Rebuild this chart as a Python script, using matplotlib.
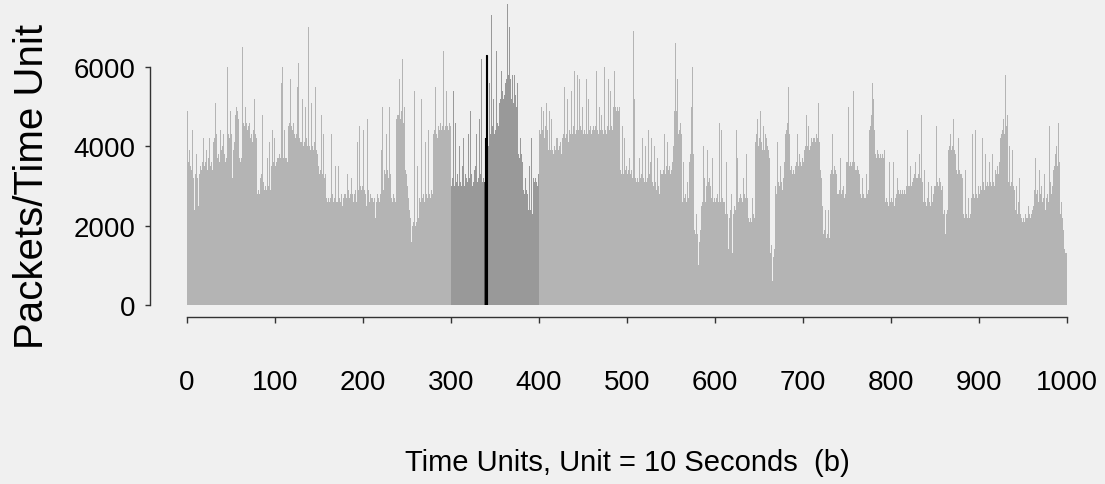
import matplotlib
matplotlib.use('Agg')
import matplotlib.pyplot as plt
import numpy as np

# packets per time unit (1 unit = 10 s)
packets_before = [
    4900, 3600, 3900, 3500, 3300, 3400, 4400, 3200, 2400, 3300,
    3800, 3200, 3400, 2500, 3300, 3500, 3400, 3600, 4200, 3500,
    3500, 3600, 3900, 3400, 3700, 4200, 3500, 3600, 3400, 3800,
    4100, 4200, 5100, 4300, 3700, 3800, 3600, 4000, 4400, 3900,
    4000, 4300, 3800, 3600, 3700, 5100, 6000, 4300, 4200, 4900,
    4300, 3200, 3900, 4100, 3800, 4800, 5000, 4900, 4700, 3700,
    3600, 3700, 5800, 6500, 4600, 4500, 5000, 4600, 4400, 4500,
    4400, 4600, 4200, 4300, 4100, 4400, 5200, 4300, 4200, 2900,
    2800, 2900, 2800, 3200, 3300, 4800, 3100, 3200, 2900, 3000,
    2900, 3700, 3000, 4100, 2900, 3000, 3500, 4400, 3600, 4200,
    3500, 3600, 3700, 3700, 3600, 3800, 3700, 5600, 6000, 3700,
    4400, 3700, 5100, 3700, 3600, 4500, 4600, 5700, 4500, 4400,
    4500, 4600, 4300, 4200, 4300, 5500, 6100, 4200, 4100, 4200,
    4100, 5200, 4000, 4100, 5000, 4200, 4000, 4100, 7000, 4000,
    3900, 5100, 4000, 3900, 4100, 4000, 5500, 3900, 3800, 3500,
    3300, 3400, 4800, 3300, 3400, 4300, 3200, 3300, 2700, 2600,
    2700, 2600, 4500, 2700, 4300, 2800, 2600, 2700, 3500, 2600,
    2500, 2600, 3500, 2700, 2600, 2800, 2500, 2700, 2800, 3300,
    2800, 2700, 3300, 2900, 2700, 2800, 3200, 2700, 2800, 2600,
    2800, 2900, 2600, 4100, 2900, 3000, 4500, 3000, 2900, 3000,
    4400, 2900, 2800, 2500, 2800, 4700, 2900, 2600, 2800, 2700,
    2700, 2600, 4100, 2700, 2200, 2600, 2800, 2700, 2600, 2800,
    2700, 3900, 5000, 2900, 3400, 3300, 4300, 3400, 3200, 3300,
    5000, 3300, 2700, 2600, 2800, 2700, 2600, 2700, 4700, 4800,
    4800, 5700, 4700, 4900, 6200, 4800, 4600, 5000, 3400, 3300,
    3000, 2700, 2400, 2200, 1300, 1600, 2000, 2100, 5400, 2000,
    2100, 3500, 2000, 2200, 2700, 2600, 5200, 2700, 2800, 2600,
    2700, 4100, 2800, 2700, 4400, 2800, 2700, 2900, 2800, 3000,
    4300, 4400, 5500, 4300, 4200, 4500, 4400, 4300, 4600, 4400,
    4500, 6400, 4400, 4500, 5400, 4600, 4500, 4400, 4600, 4500,
]
packets_window = [
    3000, 3200, 5400, 3000, 4000, 4600, 3100, 3300, 3000, 4000,
    3100, 3000, 5400, 3500, 4200, 3000, 3300, 3200, 3100, 4300,
    5400, 3200, 4900, 3300, 3000, 3100, 3400, 3500, 4300, 3000,
    3100, 3200, 4700, 3300, 6200, 3100, 3200, 3100, 3100, 4200,
    6300, 4200, 4000, 5600, 4300, 4200, 7300, 4500, 5200, 4300,
    4400, 6400, 4600, 4500, 4800, 5100, 5200, 5900, 5400, 5200,
    5300, 5600, 5800, 5700, 7600, 5800, 7000, 5700, 5200, 5800,
    5200, 5100, 5800, 5300, 5000, 5600, 3800, 3700, 4200, 3700,
    3800, 3600, 2900, 2800, 3200, 2900, 2800, 2300, 2400, 3500,
    2400, 4200, 2300, 3200, 3100, 3300, 3200, 3100, 3000, 3300,
]
packets_after = [
    4400, 4300, 5000, 4400, 4300, 4900, 4200, 4500, 5100, 4400,
    3900, 4900, 3800, 3900, 4700, 3900, 3800, 4000, 3900, 4200,
    3800, 4200, 3900, 4000, 4100, 3800, 4200, 4300, 5500, 4200,
    4200, 4300, 5200, 4100, 4400, 4300, 5400, 4200, 4300, 4500,
    5900, 4300, 4400, 5800, 4400, 4300, 5700, 4500, 4400, 5000,
    4300, 4400, 4300, 5700, 4400, 4300, 5200, 4400, 4500, 4300,
    4400, 4500, 5000, 4400, 4500, 5900, 4400, 4300, 5000, 4400,
    4300, 4800, 4400, 4300, 6000, 4400, 4300, 4500, 5700, 4400,
    4400, 5400, 4500, 4400, 5000, 5900, 5000, 5800, 4900, 5000,
    4900, 5000, 3400, 3300, 4500, 3400, 3300, 4200, 3400, 3500,
    3300, 3400, 3700, 3300, 3200, 3400, 3200, 6900, 5200, 3200,
    3100, 3200, 4300, 3100, 3700, 3200, 3300, 4200, 3200, 3100,
    3200, 4000, 3100, 3200, 4400, 3300, 3600, 4200, 3100, 3000,
    3000, 4000, 3100, 2900, 3700, 3000, 2800, 3000, 3400, 3300,
    3300, 3400, 4300, 3300, 3500, 3300, 4100, 3400, 3500, 3300,
    3400, 3600, 4000, 4900, 5000, 6600, 4900, 5700, 4300, 4400,
    4600, 4300, 2700, 2600, 3600, 2700, 2800, 2600, 3100, 2700,
    2700, 3600, 3800, 5000, 6000, 3800, 1900, 1800, 2300, 1700,
    1800, 1000, 1600, 1900, 2500, 2600, 4000, 2500, 3200, 2600,
    3000, 3900, 3100, 3200, 3000, 3300, 2700, 3700, 2600, 2700,
    2600, 2700, 2800, 2600, 2500, 4600, 2600, 4400, 2700, 2600,
    2600, 2300, 2200, 3600, 2300, 1400, 2200, 2400, 2800, 1300,
    2200, 2300, 2500, 2400, 4400, 3700, 2600, 2700, 2800, 3900,
    2700, 2600, 3200, 2800, 2700, 3800, 2700, 2500, 2200, 2100,
    2200, 2100, 2700, 2300, 2200, 2100, 4100, 4300, 4700, 4000,
    4200, 4900, 4100, 3900, 4000, 4500, 3900, 4300, 4200, 4000,
    3900, 3700, 1800, 1300, 1500, 600, 1200, 1400, 3000, 2800,
    3000, 4100, 3100, 3000, 3500, 3100, 2900, 3200, 3600, 3100,
    4300, 4400, 4600, 5500, 4300, 3400, 3500, 5100, 3300, 3400,
    3300, 3500, 3600, 4300, 3500, 3400, 3800, 3600, 3500, 3700,
    3600, 3900, 4000, 4800, 3900, 4000, 4500, 3900, 4000, 4200,
    4100, 4200, 4600, 4200, 4100, 4300, 4200, 5100, 4100, 3400,
    3300, 3200, 2500, 1800, 1900, 2400, 1700, 1800, 2400, 1900,
    1700, 3300, 3400, 4300, 3300, 3500, 3400, 4000, 3300, 2800,
    2800, 2900, 3700, 2800, 2900, 2800, 3000, 2700, 2800, 3600,
    3600, 5000, 3500, 3600, 3700, 3500, 3600, 5400, 3600, 3400,
    3400, 3500, 3800, 3400, 3300, 2800, 2700, 3200, 2800, 2700,
    2800, 2700, 3300, 2800, 2900, 4400, 4500, 4800, 5600, 4500,
    5200, 4400, 3800, 3700, 3900, 3800, 3700, 3900, 3800, 3700,
    3800, 3700, 3900, 2600, 2700, 3500, 2600, 2500, 3600, 2600,
    2700, 2600, 3600, 2500, 2600, 2700, 2800, 3200, 2900, 2800,
    2900, 2800, 4100, 2900, 2800, 2900, 2800, 3000, 4400, 3000,
    3100, 3000, 3500, 3000, 3100, 3200, 3300, 3600, 3200, 3100,
    3200, 3300, 3800, 3200, 4800, 3100, 2600, 2700, 3400, 2600,
    2500, 2700, 3100, 2600, 2500, 2700, 3000, 2600, 2800, 3000,
    3000, 4500, 3100, 3000, 4500, 3200, 3100, 2900, 3000, 2300,
    2400, 1800, 3300, 2300, 2400, 3900, 4000, 4300, 3900, 4000,
    4100, 4700, 3900, 3800, 3400, 3300, 4200, 3400, 3300, 3400,
    3300, 3200, 2300, 2200, 3400, 2300, 2200, 2300, 2700, 2200,
    2300, 2700, 4300, 2800, 2700, 2900, 4400, 2800, 2700, 3000,
    2800, 3000, 2900, 4200, 3000, 3100, 2900, 3800, 3000, 3100,
    3000, 3600, 3200, 3100, 3000, 3800, 3100, 3000, 3400, 3300,
    3400, 3500, 3300, 3600, 4200, 4300, 4400, 4700, 4300, 5100,
    5800, 4500, 4800, 3100, 4000, 3000, 3100, 3200, 3900, 3000,
    2900, 2400, 3000, 2300, 2600, 2200, 3200, 2300, 2200, 2100,
    2200, 2100, 2300, 2200, 2100, 2200, 2500, 2300, 2200, 2300,
    2400, 2500, 2300, 2900, 3700, 2800, 2900, 2600, 3400, 2800,
    2700, 3000, 2600, 2700, 3300, 2400, 2700, 2800, 2600, 3200,
    4500, 3100, 2800, 3000, 3400, 3500, 3800, 3300, 4000, 3500,
    4600, 3600, 2300, 2600, 2200, 1800, 1900, 1400, 1300, 1300,
]
window_start = 300              # darker shaded window 300-399
marked_units = [339, 340]       # black bars
dim_units = [338]               # dark grey bar next to them
x_ticks = list(range(0, 1001, 100))
y_ticks = [0, 2000, 4000, 6000]

packets = packets_before + packets_window + packets_after
t = np.arange(len(packets))

colors = ['#b4b4b4'] * len(packets)
for i in range(window_start, window_start + len(packets_window)):
    colors[i] = '#999999'
for i in dim_units:
    colors[i] = '#5a5a5a'
for i in marked_units:
    colors[i] = '#000000'

bg = '#f0f0f0'
plt.rcParams['font.family'] = ['Liberation Sans', 'DejaVu Sans']

fig = plt.figure(figsize=(11.05, 4.85), dpi=100, facecolor=bg)
ax = fig.add_axes([187 / 1105, 1 - 306 / 485, 880 / 1105, 306 / 485])
ax.set_facecolor(bg)

ax.bar(t, packets, width=1.0, align='edge', color=colors, linewidth=0)
# the marked bars get an outline so they read as a solid stroke
ax.bar(marked_units, [packets[i] for i in marked_units], width=1.0,
       align='edge', color='#000000', edgecolor='#000000', linewidth=0.8)

ax.set_xlim(0, 1000)
ax.set_ylim(0, 7714)

for s in ['top', 'right']:
    ax.spines[s].set_visible(False)
ax.spines['left'].set_position(('outward', 26.5))
ax.spines['left'].set_bounds(0, 6000)
ax.spines['bottom'].set_position(('outward', 8.6))
ax.spines['bottom'].set_bounds(0, 1000)
for s in ['left', 'bottom']:
    ax.spines[s].set_color('#333333')
    ax.spines[s].set_linewidth(1.0)

ax.set_xticks(x_ticks)
ax.set_yticks(y_ticks)
ax.tick_params(axis='x', length=4.5, width=1, color='#333333', pad=33, labelsize=20)
ax.tick_params(axis='y', length=3.6, width=1, color='#333333', pad=7, labelsize=20)

fig.text(627 / 1105, 1 - 463 / 485, 'Time Units, Unit = 10 Seconds  (b)',
         ha='center', va='center', fontsize=21)
fig.text(32 / 1105, 1 - 187 / 485, 'Packets/Time Unit', rotation=90,
         ha='center', va='center', fontsize=29)

fig.savefig('out.png', dpi=100, facecolor=bg)
